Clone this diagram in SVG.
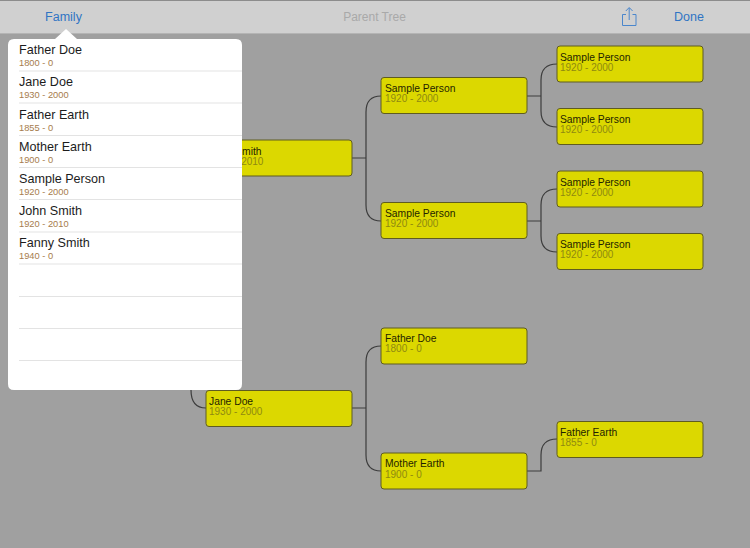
<svg xmlns="http://www.w3.org/2000/svg" width="750" height="548" viewBox="0 0 750 548">
<style>
text{font-family:"Liberation Sans",Arial,sans-serif}
.box{fill:#dcd800;stroke:#5f5c20;stroke-width:1}
.n{font-size:10.300px;fill:#1f1f00}
.y{font-size:10px;fill:#8f8a10}
.c{fill:none;stroke:#3c3c3c;stroke-width:1.2}
.ln{font-size:12.600px;fill:#1c1c1c}
.ly{font-size:9.300px;fill:#a67c4c}
.sep{stroke:#e3e3e3;stroke-width:1}
.nav{font-size:12.500px;fill:#2f74c4}
</style>
<rect width="750" height="548" fill="#a0a0a0"/>
<g id="connectors">
<path class="c" d="M352 158H366M366 158V112Q366 96 381 96M366 158V205Q366 221 381 221"/>
<path class="c" d="M527 96H541M541 96V80Q541 64 557 64M541 96V111Q541 127 557 127"/>
<path class="c" d="M527 221H541M541 221V205Q541 189 557 189M541 221V236Q541 252 557 252"/>
<path class="c" d="M352 408H366M366 408V362Q366 346 381 346M366 408V455Q366 471 381 471"/>
<path class="c" d="M527 471H541V455Q541 439 557 439"/>
<path class="c" d="M191 380V390Q191 408 206 408"/>
</g>
<g id="node-john-smith"><rect class="box" x="206" y="140" width="146" height="36" rx="3"/><text class="n" x="210" y="155">John Smith</text><text class="y" x="210" y="165">1920 - 2010</text></g>
<g id="node-sample-1"><rect class="box" x="381" y="77.500" width="146" height="36" rx="3"/><text class="n" x="385" y="92">Sample Person</text><text class="y" x="385" y="102">1920 - 2000</text></g>
<g id="node-sample-2"><rect class="box" x="381" y="202.500" width="146" height="36" rx="3"/><text class="n" x="385" y="217">Sample Person</text><text class="y" x="385" y="227">1920 - 2000</text></g>
<g id="node-sample-3"><rect class="box" x="557" y="46" width="146" height="36" rx="3"/><text class="n" x="560" y="61">Sample Person</text><text class="y" x="560" y="71">1920 - 2000</text></g>
<g id="node-sample-4"><rect class="box" x="557" y="108.500" width="146" height="36" rx="3"/><text class="n" x="560" y="123">Sample Person</text><text class="y" x="560" y="133">1920 - 2000</text></g>
<g id="node-sample-5"><rect class="box" x="557" y="171" width="146" height="36" rx="3"/><text class="n" x="560" y="186">Sample Person</text><text class="y" x="560" y="196">1920 - 2000</text></g>
<g id="node-sample-6"><rect class="box" x="557" y="233.500" width="146" height="36" rx="3"/><text class="n" x="560" y="248">Sample Person</text><text class="y" x="560" y="258">1920 - 2000</text></g>
<g id="node-jane-doe"><rect class="box" x="206" y="390.500" width="146" height="36" rx="3"/><text class="n" x="209" y="405">Jane Doe</text><text class="y" x="209" y="415">1930 - 2000</text></g>
<g id="node-father-doe"><rect class="box" x="381" y="328" width="146" height="36" rx="3"/><text class="n" x="385" y="342">Father Doe</text><text class="y" x="385" y="352">1800 - 0</text></g>
<g id="node-mother-earth"><rect class="box" x="381" y="453" width="146" height="36" rx="3"/><text class="n" x="385" y="467">Mother Earth</text><text class="y" x="385" y="478">1900 - 0</text></g>
<g id="node-father-earth"><rect class="box" x="557" y="421.500" width="146" height="36" rx="3"/><text class="n" x="560" y="436">Father Earth</text><text class="y" x="560" y="446">1855 - 0</text></g>
<g id="navbar">
<rect width="750" height="33" fill="#d0d0d0"/>
<rect width="750" height="1" fill="#8c8c8c"/>
<rect y="33" width="750" height="1" fill="#b4b4b4"/>
<text class="nav" x="63.500" y="21" text-anchor="middle">Family</text>
<text x="374.500" y="21" text-anchor="middle" font-size="12px" fill="#a9a9a9">Parent Tree</text>
<path d="M626 14.500H622.500V25.500H636V14.500H632.500M629.200 20V8M625.800 11L629.200 7.500L632.600 11" fill="none" stroke="#4a86cc" stroke-width="1"/>
<text class="nav" x="689" y="21" text-anchor="middle">Done</text>
</g>
<g id="popover">
<path d="M14 39H55L66 29L77 39H236Q242 39 242 45V384Q242 390 236 390H14Q8 390 8 384V45Q8 39 14 39Z" fill="#fff"/>
<text class="ln" x="19" y="54">Father Doe</text><text class="ly" x="19" y="66">1800 - 0</text>
<line class="sep" x1="19" y1="71" x2="242" y2="71"/>
<text class="ln" x="19" y="86">Jane Doe</text><text class="ly" x="19" y="98">1930 - 2000</text>
<line class="sep" x1="19" y1="103" x2="242" y2="103"/>
<text class="ln" x="19" y="119">Father Earth</text><text class="ly" x="19" y="131">1855 - 0</text>
<line class="sep" x1="19" y1="135.500" x2="242" y2="135.500"/>
<text class="ln" x="19" y="151">Mother Earth</text><text class="ly" x="19" y="163">1900 - 0</text>
<line class="sep" x1="19" y1="167.500" x2="242" y2="167.500"/>
<text class="ln" x="19" y="183">Sample Person</text><text class="ly" x="19" y="195">1920 - 2000</text>
<line class="sep" x1="19" y1="199.500" x2="242" y2="199.500"/>
<text class="ln" x="19" y="215">John Smith</text><text class="ly" x="19" y="227">1920 - 2010</text>
<line class="sep" x1="19" y1="232" x2="242" y2="232"/>
<text class="ln" x="19" y="247">Fanny Smith</text><text class="ly" x="19" y="259">1940 - 0</text>
<line class="sep" x1="19" y1="264" x2="242" y2="264"/>
<line class="sep" x1="19" y1="296.500" x2="242" y2="296.500"/>
<line class="sep" x1="19" y1="328.500" x2="242" y2="328.500"/>
<line class="sep" x1="19" y1="360.500" x2="242" y2="360.500"/>
</g>
</svg>
